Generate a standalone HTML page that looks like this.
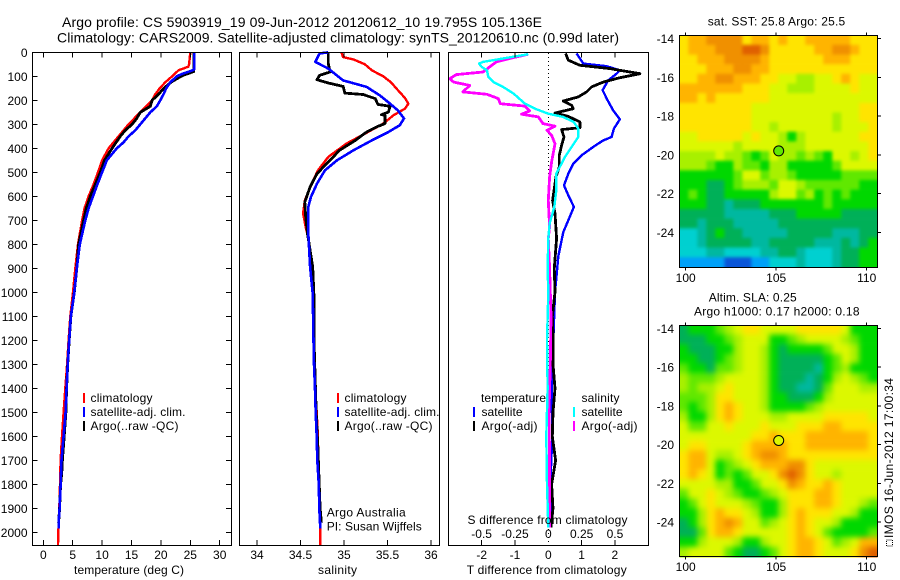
<!DOCTYPE html>
<html lang="en">
<head>
<meta charset="utf-8">
<title>Argo profile 5903919_19</title>
<style>
html,body{margin:0;padding:0;background:#fff;}
svg{display:block;font-family:"Liberation Sans",sans-serif;font-size:12px;fill:#000;}
text{fill:#000;stroke:none;}
</style>
</head>
<body>
<svg id="chart" xmlns="http://www.w3.org/2000/svg" width="900" height="580" viewBox="0 0 900 580">
<defs>
<filter id="soft-sst" x="-5%" y="-5%" width="110%" height="110%" color-interpolation-filters="sRGB"><feGaussianBlur stdDeviation="1.6"/></filter>
<filter id="soft-sla" x="-5%" y="-5%" width="110%" height="110%" color-interpolation-filters="sRGB"><feGaussianBlur stdDeviation="3"/></filter>
<clipPath id="clip-sst"><rect x="679.5" y="35.5" width="198" height="232"/></clipPath>
<clipPath id="clip-sla"><rect x="679.5" y="325.5" width="198" height="232"/></clipPath>
</defs>
<rect x="0" y="0" width="900" height="580" fill="#fff"/>
<text x="62" y="27" font-size="14" textLength="480" lengthAdjust="spacing">Argo profile: CS 5903919_19 09-Jun-2012 20120612_10 19.795S 105.136E</text>
<text x="57" y="42.5" font-size="14" textLength="562" lengthAdjust="spacing">Climatology: CARS2009. Satellite-adjusted climatology: synTS_20120610.nc (0.99d later)</text>

<text x="74" y="574" textLength="110" lengthAdjust="spacing">temperature (deg C)</text>
<text x="318" y="574" textLength="39" lengthAdjust="spacing">salinity</text>
<text x="466.7" y="574" textLength="160" lengthAdjust="spacing">T difference from climatology</text>
<text x="467.5" y="524" textLength="160" lengthAdjust="spacing">S difference from climatology</text>

<g>
<line x1="84" y1="393" x2="84" y2="403" stroke="#f00" stroke-width="2"/>
<text x="90.5" y="402" textLength="62" lengthAdjust="spacing">climatology</text>
<line x1="84" y1="407" x2="84" y2="417" stroke="#00f" stroke-width="2"/>
<text x="90.5" y="416" textLength="95" lengthAdjust="spacing">satellite-adj. clim.</text>
<line x1="84" y1="421" x2="84" y2="431" stroke="#000" stroke-width="2"/>
<text x="90.5" y="430" textLength="88" lengthAdjust="spacing">Argo(..raw -QC)</text>
</g>
<g>
<line x1="338" y1="393" x2="338" y2="403" stroke="#f00" stroke-width="2"/>
<text x="344.5" y="402" textLength="62" lengthAdjust="spacing">climatology</text>
<line x1="338" y1="407" x2="338" y2="417" stroke="#00f" stroke-width="2"/>
<text x="344.5" y="416" textLength="95" lengthAdjust="spacing">satellite-adj. clim.</text>
<line x1="338" y1="421" x2="338" y2="431" stroke="#000" stroke-width="2"/>
<text x="344.5" y="430" textLength="88" lengthAdjust="spacing">Argo(..raw -QC)</text>
</g>
<g>
<text x="326.7" y="516.7" textLength="79" lengthAdjust="spacing">Argo Australia</text>
<text x="326.7" y="530.7" textLength="95" lengthAdjust="spacing">PI: Susan Wijffels</text>
</g>
<g>
<text x="481" y="402" textLength="65" lengthAdjust="spacing">temperature</text>
<text x="581.5" y="402" textLength="38" lengthAdjust="spacing">salinity</text>
<line x1="474" y1="407" x2="474" y2="417" stroke="#00f" stroke-width="2"/>
<text x="481.5" y="416" textLength="41" lengthAdjust="spacing">satellite</text>
<line x1="474" y1="421" x2="474" y2="431" stroke="#000" stroke-width="2"/>
<text x="481.5" y="430" textLength="56" lengthAdjust="spacing">Argo(-adj)</text>
<line x1="574" y1="407" x2="574" y2="417" stroke="#0ff" stroke-width="2"/>
<text x="581.5" y="416" textLength="41" lengthAdjust="spacing">satellite</text>
<line x1="574" y1="421" x2="574" y2="431" stroke="#f0f" stroke-width="2"/>
<text x="581.5" y="430" textLength="56" lengthAdjust="spacing">Argo(-adj)</text>
</g>

<text x="707.7" y="25.3" textLength="137.5" lengthAdjust="spacing">sat. SST: 25.8 Argo: 25.5</text>
<text x="708.7" y="301.7" textLength="88" lengthAdjust="spacing">Altim. SLA: 0.25</text>
<text x="694" y="315.7" textLength="165.5" lengthAdjust="spacing">Argo h1000: 0.17 h2000: 0.18</text>
<rect x="886.5" y="540" width="6" height="6" fill="none" stroke="#000" stroke-width="1" stroke-dasharray="1 1"/>
<text transform="translate(893 538) rotate(-90)" textLength="160" lengthAdjust="spacing">IMOS 16-Jun-2012 17:00:34</text>
</svg>

<script>
// ---------- tick labels ----------
const depthTicks = [0,100,200,300,400,500,600,700,800,900,1000,1100,1200,1300,1400,1500,1600,1700,1800,1900,2000];
const tempTicks = [0,5,10,15,20,25,30];
const salTicks = [34,34.5,35,35.5,36];
const diffTTicks = [-2,-1,0,1,2];
const diffSTicks = [-0.5,-0.25,0,0.25,0.5];
const lonTicks = [100,105,110];
const latTicks = [14,16,18,20,22,24];

// ---------- temperature profiles (deg C vs depth dbar) ----------
const tempClimDepth = [0,50,60,75,100,125,150,175,200,225,250,275,300,350,400,450,500,550,600,650,700,800,900,1000,1100,1200,1300,1400,1500,1600,1700,1800,1900,2000,2054];
const tempClimValues = [25.0,24.8,24.66,23.0,21.9,20.75,19.8,19.05,18.5,17.5,16.5,15.5,14.5,12.8,11.1,10.0,9.3,8.55,7.7,7.0,6.6,5.9,5.45,5.05,4.6,4.3,4.05,3.74,3.45,3.18,2.95,2.84,2.72,2.55,2.5];
const tempSatDepth = [0,70,75,90,100,125,150,175,200,225,250,275,300,325,350,375,400,450,500,550,600,650,700,800,900,1000,1100,1200,1300,1400,1500,1600,1700,1800,1900,1960,1985];
const tempSatValues = [25.7,25.7,25.4,23.6,22.7,21.6,20.9,20.45,19.9,19.3,18.2,17.35,16.5,15.65,14.5,13.65,12.5,10.8,10.0,9.2,8.45,7.7,7.15,6.2,5.7,5.27,4.7,4.4,4.15,3.97,3.8,3.45,3.1,2.95,2.78,2.6,2.6];
const tempArgoDepth = [0,80,95,110,125,150,175,200,225,250,275,300,325,350,400,450,500,550,600,650,700,800,900,1000,1100,1200,1300,1400,1500,1600,1700,1750,1800,1900,1960];
const tempArgoValues = [25.6,25.6,23.9,22.7,21.7,20.5,19.6,18.5,18.2,16.5,15.9,15.1,13.95,13.1,11.7,10.4,9.7,8.85,8.0,7.3,6.85,6.0,5.7,5.27,4.7,4.4,4.15,3.97,3.85,3.55,3.25,3.15,2.95,2.78,2.6];

// ---------- salinity profiles ----------
const salClimDepth = [0,20,30,50,75,100,125,150,190,214,235,262,297,339,380,436,492,547,617,672,728,776,894,1000,1100,1200,1300,1400,1500,1600,1700,1800,1900,2054];
const salClimValues = [34.97,34.99,35.11,35.24,35.32,35.45,35.54,35.6,35.7,35.74,35.7,35.57,35.45,35.24,35.03,34.82,34.7,34.63,34.55,34.53,34.56,34.59,34.62,34.64,34.645,34.65,34.66,34.67,34.686,34.7,34.705,34.716,34.724,34.728];
const salSatDepth = [0,5,40,68,117,144,179,214,242,276,304,332,367,408,450,492,547,603,644,756,894,1005,1100,1200,1300,1400,1500,1600,1700,1800,1900,1985];
const salSatValues = [34.82,34.72,34.67,34.82,34.99,35.26,35.41,35.53,35.62,35.69,35.64,35.51,35.32,35.11,34.92,34.78,34.69,34.62,34.59,34.59,34.61,34.64,34.645,34.65,34.655,34.667,34.675,34.686,34.693,34.71,34.716,34.728];
const salArgoDepth = [0,47,82,96,114,128,142,170,176,193,217,225,249,260,262,297,311,332,367,408,464,506,561,624,686,756,894,1019,1200,1500,1650,1900,1960];
const salArgoValues = [34.82,34.82,34.84,34.72,34.69,34.82,34.99,35.01,35.22,35.36,35.39,35.53,35.51,35.43,35.47,35.47,35.375,35.26,35.13,34.95,34.8,34.69,34.61,34.55,34.56,34.58,34.64,34.655,34.655,34.68,34.7,34.725,34.74];

// ---------- difference profiles ----------
const dtSatDepth = [5,47,58,75,89,117,158,200,242,279,318,353,367,394,429,464,506,554,596,644,700,749,850,1000,1200,1400,1600,1800,1980];
const dtSatValues = [0.85,1.05,1.75,2.15,2.05,1.8,1.63,1.78,1.95,2.15,1.97,1.9,1.65,1.35,1.0,0.75,0.6,0.47,0.6,0.77,0.6,0.45,0.3,0.2,0.15,0.1,0.12,0.06,0.05];
const dtArgoDepth = [5,33,54,68,89,106,124,144,165,186,203,221,235,253,267,290,314,322,353,388,429,478,519,617,672,776,900,1000,1100,1200,1300,1400,1500,1600,1700,1800,1900,1980];
const dtArgoValues = [0.52,0.6,0.95,1.85,2.75,2.15,1.65,1.3,1.15,0.9,0.45,0.7,0.75,0.2,0.6,0.95,0.95,0.4,0.47,0.4,0.33,0.33,0.23,0.13,0.2,0.25,0.18,0.2,0.12,0.15,0.14,0.2,0.14,0.12,0.22,0.1,0.14,0.08];
const dsSatDepth = [8,40,47,61,75,103,124,144,172,214,235,256,269,290,318,353,394,436,506,575,644,714,776,900,1000,1200,1400,1600,1800,1980];
const dsSatValues = [-0.15,-0.49,-0.52,-0.5,-0.46,-0.45,-0.41,-0.34,-0.26,-0.175,-0.1,0,0.11,0.19,0.225,0.225,0.175,0.125,0.06,0.06,0.045,0.01,0,-0.005,0,-0.01,-0.005,-0.015,-0.01,0];
const dsArgoDepth = [8,26,40,82,93,110,124,138,165,175,193,214,224,244,258,269,297,308,325,346,381,457,519,617,728,776,900,1100,1300,1500,1700,1980];
const dsArgoValues = [-0.15,-0.29,-0.39,-0.49,-0.69,-0.74,-0.71,-0.59,-0.64,-0.46,-0.375,-0.36,-0.175,-0.14,-0.2,-0.075,-0.04,0.05,-0.01,0.025,0.05,0.025,0.01,0,0.01,0,0.01,0.02,0.015,0.005,0.01,0.01];

// ---------- map grids: colour-level per cell, 22 columns x 24 rows, north to south ----------
const sstLevels = [
[9,10,10,11,11,11,11,9,10,10,9,10,9,9,10,10,10,10,10,9,9,9],
[9,10,10,10,11,11,11,12,12,11,9,9,9,9,9,10,10,11,11,10,9,9],
[9,9,10,10,10,11,11,11,11,10,9,9,9,9,9,9,10,10,10,9,9,9],
[9,9,9,10,10,10,11,11,10,10,9,9,9,9,9,9,9,9,9,9,9,9],
[9,9,10,10,11,11,10,10,10,9,9,8,8,7,7,8,8,9,10,9,8,8],
[10,10,10,10,10,10,10,9,9,9,8,8,7,7,7,8,8,8,8,9,8,8],
[10,10,9,10,9,9,9,9,9,9,8,8,8,8,8,8,8,8,8,8,8,8],
[9,9,9,9,9,9,9,9,8,8,8,8,8,8,8,8,8,8,8,8,9,9],
[9,9,9,9,9,9,9,9,8,8,8,8,8,8,8,8,8,7,8,8,9,9],
[9,9,9,9,9,9,9,9,8,8,7,8,8,8,8,8,8,7,8,8,8,9],
[8,8,9,9,9,9,9,8,9,8,8,7,5,7,8,8,8,8,8,8,9,9],
[8,8,8,8,8,8,7,8,8,8,8,7,7,7,8,8,8,8,8,8,8,9],
[7,7,7,7,8,7,7,6,5,6,8,7,7,6,7,6,5,8,8,7,8,9],
[7,7,7,6,5,5,7,6,6,5,7,7,5,5,5,5,5,6,8,8,8,8],
[5,5,5,5,5,5,6,8,8,6,7,7,6,5,5,5,5,5,6,6,6,6],
[5,5,5,4,4,5,6,7,7,7,6,8,8,7,6,6,6,6,6,6,5,5],
[5,6,5,4,4,5,5,5,5,5,7,8,8,6,7,5,6,5,6,5,5,5],
[5,5,5,4,4,3,4,4,4,5,5,5,5,5,5,5,6,5,5,5,5,5],
[4,4,4,4,4,3,3,3,3,3,4,4,4,5,5,5,5,5,4,4,4,4],
[4,4,3,4,4,4,3,3,3,3,3,4,4,4,4,4,4,4,4,4,4,4],
[2,2,3,4,5,4,4,3,3,3,3,3,4,4,4,4,4,3,3,3,4,4],
[2,2,3,4,4,4,4,4,3,3,4,4,4,4,4,3,3,3,4,3,4,5],
[2,2,2,3,3,2,2,2,2,3,3,4,4,3,2,2,2,3,4,4,5,5],
[1,1,1,1,1,0,0,0,1,1,2,2,2,3,2,2,2,3,4,4,5,5]
];
const slaLevels = [
[4,5,5,5,6,7,8,9,9,8,8,8,8,9,9,9,9,9,8,5,5,5],
[4,4,4,5,5,6,7,8,8,8,5,5,6,7,8,8,8,8,7,6,5,5],
[5,4,4,4,5,5,7,8,8,7,5,4,5,5,5,5,6,8,8,7,5,5],
[5,5,4,4,5,6,7,8,8,7,5,4,4,4,4,4,5,6,8,7,5,5],
[6,5,5,4,6,6,7,8,8,7,5,4,4,4,4,3,5,6,7,5,5,5],
[7,6,6,6,7,8,8,8,8,7,5,4,4,4,3,4,5,7,8,7,6,5],
[7,6,7,7,8,9,8,8,8,7,5,4,4,3,3,4,6,8,8,8,7,7],
[6,6,6,7,9,9,8,8,8,7,5,5,4,4,4,5,7,8,8,8,8,8],
[6,5,6,7,9,10,9,8,8,7,5,5,5,5,6,7,8,8,8,8,8,8],
[7,5,5,7,9,10,9,8,8,8,7,7,8,8,8,8,9,9,9,9,9,8],
[8,6,6,8,8,9,8,8,8,9,8,8,8,9,9,9,10,10,9,9,9,9],
[8,8,8,8,8,8,8,8,9,9,10,9,9,9,10,10,10,10,10,10,10,9],
[8,9,9,8,8,8,8,9,10,10,10,10,9,9,10,10,10,10,10,10,10,9],
[9,10,10,8,7,7,8,9,10,11,11,10,9,9,9,9,9,9,9,9,9,9],
[9,10,10,8,5,6,7,8,9,10,10,10,11,11,9,8,8,8,8,8,8,8],
[9,10,9,8,5,6,5,6,8,8,9,11,12,11,9,8,8,7,8,8,8,8],
[8,8,8,8,7,7,5,5,6,8,8,9,11,10,9,9,10,9,8,8,8,8],
[6,8,8,9,8,7,6,5,5,6,7,8,9,9,9,10,10,9,8,8,8,8],
[5,6,8,9,8,8,8,7,6,5,5,7,9,9,9,10,10,9,8,8,7,6],
[5,5,7,9,10,9,9,8,7,5,5,7,9,10,9,9,9,8,8,7,5,5],
[4,5,7,9,10,11,10,8,8,6,7,8,9,10,9,8,8,7,5,5,5,5],
[4,4,6,9,10,10,9,8,8,8,8,8,9,10,9,8,6,5,5,5,5,6],
[5,5,7,8,8,8,7,5,5,7,8,8,9,10,10,9,8,6,7,8,10,10],
[7,8,8,8,8,6,5,4,4,5,6,8,9,10,10,9,8,8,8,9,11,12]
];
const floatLon = 105.136;
const floatLat = 19.795;
const sstFloatLevel = 6;
const slaFloatLevel = 8;

// ---------- axis functions ----------
const SVG = 'http://www.w3.org/2000/svg';
const root = document.getElementById('chart');
const PANEL_TOP = 52.5, PANEL_BOTTOM = 545.5;
const yDepth = d => 52.3 + 0.24 * d;
const xTemp = t => 43.3 + 5.88 * t;
const xSal = s => 257 + 87 * (s - 34);
const xDiffT = t => 548.3 + 33.3 * t;
const xDiffS = s => 548.3 + 133.3 * s;
const palette = ['#0a55d8','#00a0f8','#00d0d0','#00b8a0','#00b058','#00d800','#60e800','#a8f000','#dcf800','#ffe400','#ffb400','#f09000','#e06000'];

function addLine(parent, name, x1, y1, x2, y2, color, width) {
  const el = document.createElementNS(SVG, 'line');
  
  
  el.setAttribute('x1', x1);
  el.setAttribute('y1', y1);
  el.setAttribute('x2', x2);
  el.setAttribute('y2', y2);
  el.setAttribute('stroke', color);
  el.setAttribute('stroke-width', width);
  el.setAttribute('shape-rendering', 'crispEdges');
  parent.appendChild(el);
  return el;
}
function addText(parent, name, x, y, str, anchor) {
  const el = document.createElementNS(SVG, 'text');
  
  
  el.setAttribute('x', x);
  el.setAttribute('y', y);
  el.setAttribute('text-anchor', anchor);
  el.textContent = str;
  parent.appendChild(el);
  return el;
}
function addGroup(name) {
  const g = document.createElementNS(SVG, 'g');
  
  
  root.insertBefore(g, root.children[2]);
  return g;
}
function addBox(parent, name, x, y, w, h) {
  const el = document.createElementNS(SVG, 'rect');
  
  
  el.setAttribute('x', x);
  el.setAttribute('y', y);
  el.setAttribute('width', w);
  el.setAttribute('height', h);
  el.setAttribute('fill', 'none');
  el.setAttribute('stroke', '#000');
  el.setAttribute('stroke-width', 1);
  el.setAttribute('shape-rendering', 'crispEdges');
  parent.appendChild(el);
}
function addProfile(parent, name, depths, values, xFn, color, width) {
  const el = document.createElementNS(SVG, 'polyline');
  
  
  el.setAttribute('points', depths.map((d, i) => xFn(values[i]).toFixed(1) + ',' + yDepth(d).toFixed(1)).join(' '));
  el.setAttribute('fill', 'none');
  el.setAttribute('stroke', color);
  el.setAttribute('stroke-width', width);
  el.setAttribute('stroke-linejoin', 'round');
  el.setAttribute('shape-rendering', 'crispEdges');
  parent.appendChild(el);
}

// ---------- temperature panel ----------
const p1 = addGroup('temperature-panel');
addProfile(p1, 'temperature-climatology-line', tempClimDepth, tempClimValues, xTemp, '#f00', 2.4);
addProfile(p1, 'temperature-argo-line', tempArgoDepth, tempArgoValues, xTemp, '#000', 2.8);
addProfile(p1, 'temperature-satellite-line', tempSatDepth, tempSatValues, xTemp, '#00f', 2.6);
addBox(p1, 'temperature-panel-frame', 32.5, PANEL_TOP, 199, PANEL_BOTTOM - PANEL_TOP);
depthTicks.forEach(d => {
  const y = yDepth(d);
  addLine(p1, 'depth-tick-left', 33, y, 37.5, y, '#000', 1);
  addLine(p1, 'depth-tick-right', 226, y, 231, y, '#000', 1);
  addText(p1, 'depth-tick-label', 27.5, y + 4.5, String(d), 'end');
});
tempTicks.forEach(t => {
  const x = xTemp(t);
  addLine(p1, 'temperature-tick-top', x, 53, x, 57.5, '#000', 1);
  addLine(p1, 'temperature-tick-bottom', x, 540, x, 545, '#000', 1);
  addText(p1, 'temperature-tick-label', x, 559, String(t), 'middle');
});

// ---------- salinity panel ----------
const p2 = addGroup('salinity-panel');
addProfile(p2, 'salinity-climatology-line', salClimDepth, salClimValues, xSal, '#f00', 2.4);
addProfile(p2, 'salinity-argo-line', salArgoDepth, salArgoValues, xSal, '#000', 2.8);
addProfile(p2, 'salinity-satellite-line', salSatDepth, salSatValues, xSal, '#00f', 2.6);
addBox(p2, 'salinity-panel-frame', 239.5, PANEL_TOP, 200, PANEL_BOTTOM - PANEL_TOP);
salTicks.forEach(s => {
  const x = xSal(s);
  addLine(p2, 'salinity-tick-top', x, 53, x, 57.5, '#000', 1);
  addLine(p2, 'salinity-tick-bottom', x, 540, x, 545, '#000', 1);
  addText(p2, 'salinity-tick-label', x, 559, String(s), 'middle');
});

// ---------- difference panel ----------
const p3 = addGroup('difference-panel');
const zero = addLine(p3, 'zero-difference-line', xDiffT(0), 53, xDiffT(0), 545, '#000', 1);
zero.setAttribute('stroke-dasharray', '1 3');
addProfile(p3, 't-satellite-difference-line', dtSatDepth, dtSatValues, xDiffT, '#00f', 2.4);
addProfile(p3, 't-argo-difference-line', dtArgoDepth, dtArgoValues, xDiffT, '#000', 2.8);
addProfile(p3, 's-argo-difference-line', dsArgoDepth, dsArgoValues, xDiffS, '#f0f', 2.8);
addProfile(p3, 's-satellite-difference-line', dsSatDepth, dsSatValues, xDiffS, '#0ff', 2.4);
addBox(p3, 'difference-panel-frame', 448.5, PANEL_TOP, 200, PANEL_BOTTOM - PANEL_TOP);
diffTTicks.forEach(t => {
  const x = xDiffT(t);
  if (t !== 0) {
    addLine(p3, 't-difference-tick-top', x, 53, x, 57.5, '#000', 1);
    addLine(p3, 't-difference-tick-bottom', x, 540, x, 545, '#000', 1);
  }
  addText(p3, 't-difference-tick-label', x, 559, String(t), 'middle');
});
diffSTicks.forEach(s => {
  addText(p3, 's-difference-tick-label', xDiffS(s), 538, String(s), 'middle');
});

// ---------- maps ----------
const xLon = lon => 685.7 + 18.1 * (lon - 100);
const LON_W = 99.65, LON_E = 110.58, LAT_N = 13.82, LAT_S = 25.78;
const BLEED = 10;

function drawMap(name, levels, lat14y, floatLevel, filterId, clipId) {
  const g = addGroup(name);
  const clipped = document.createElementNS(SVG, 'g');
  
  
  clipped.setAttribute('clip-path', 'url(#' + clipId + ')');
  g.appendChild(clipped);
  const soft = document.createElementNS(SVG, 'g');
  
  
  soft.setAttribute('filter', 'url(#' + filterId + ')');
  clipped.appendChild(soft);
  const yLat = lat => lat14y + 19.37 * (lat - 14);
  const nRows = levels.length;
  levels.forEach((row, r) => {
    row.forEach((level, c) => {
      let x0 = xLon(LON_W + (LON_E - LON_W) * c / row.length);
      let x1 = xLon(LON_W + (LON_E - LON_W) * (c + 1) / row.length);
      let y0 = yLat(LAT_N + (LAT_S - LAT_N) * r / nRows);
      let y1 = yLat(LAT_N + (LAT_S - LAT_N) * (r + 1) / nRows);
      if (c === 0) x0 -= BLEED;
      if (c === row.length - 1) x1 += BLEED;
      if (r === 0) y0 -= BLEED;
      if (r === nRows - 1) y1 += BLEED;
      const cell = document.createElementNS(SVG, 'rect');
      
      
      cell.setAttribute('x', x0.toFixed(2));
      cell.setAttribute('y', y0.toFixed(2));
      cell.setAttribute('width', (x1 - x0 + 0.3).toFixed(2));
      cell.setAttribute('height', (y1 - y0 + 0.3).toFixed(2));
      cell.setAttribute('fill', palette[level]);
      soft.appendChild(cell);
    });
  });
  const top = Math.round(yLat(LAT_N)) + 0.5;
  const bottom = Math.round(yLat(LAT_S)) + 0.5;
  addBox(g, name + '-frame', 679.5, top, 198, bottom - top);
  lonTicks.forEach(lon => {
    const x = xLon(lon);
    addLine(g, 'longitude-tick-top', x, top - 3, x, top, '#000', 1);
    addLine(g, 'longitude-tick-bottom', x, bottom, x, bottom + 3, '#000', 1);
    addText(g, 'longitude-tick-label', x, bottom + 14.5, String(lon), 'middle');
  });
  latTicks.forEach(lat => {
    const y = yLat(lat);
    addLine(g, 'latitude-tick-right', 878, y, 881, y, '#000', 1);
    addText(g, 'latitude-tick-label', 674, y + 4.5, '-' + lat, 'end');
  });
  const marker = document.createElementNS(SVG, 'circle');
  
  
  marker.setAttribute('cx', xLon(floatLon).toFixed(1));
  marker.setAttribute('cy', yLat(floatLat).toFixed(1));
  marker.setAttribute('r', 5);
  marker.setAttribute('fill', palette[floatLevel]);
  marker.setAttribute('stroke', '#000');
  marker.setAttribute('stroke-width', 1);
  g.appendChild(marker);
}
drawMap('sst-map', sstLevels, 38.7, sstFloatLevel, 'soft-sst', 'clip-sst');
drawMap('sla-map', slaLevels, 328.3, slaFloatLevel, 'soft-sla', 'clip-sla');
</script>
</body>
</html>
